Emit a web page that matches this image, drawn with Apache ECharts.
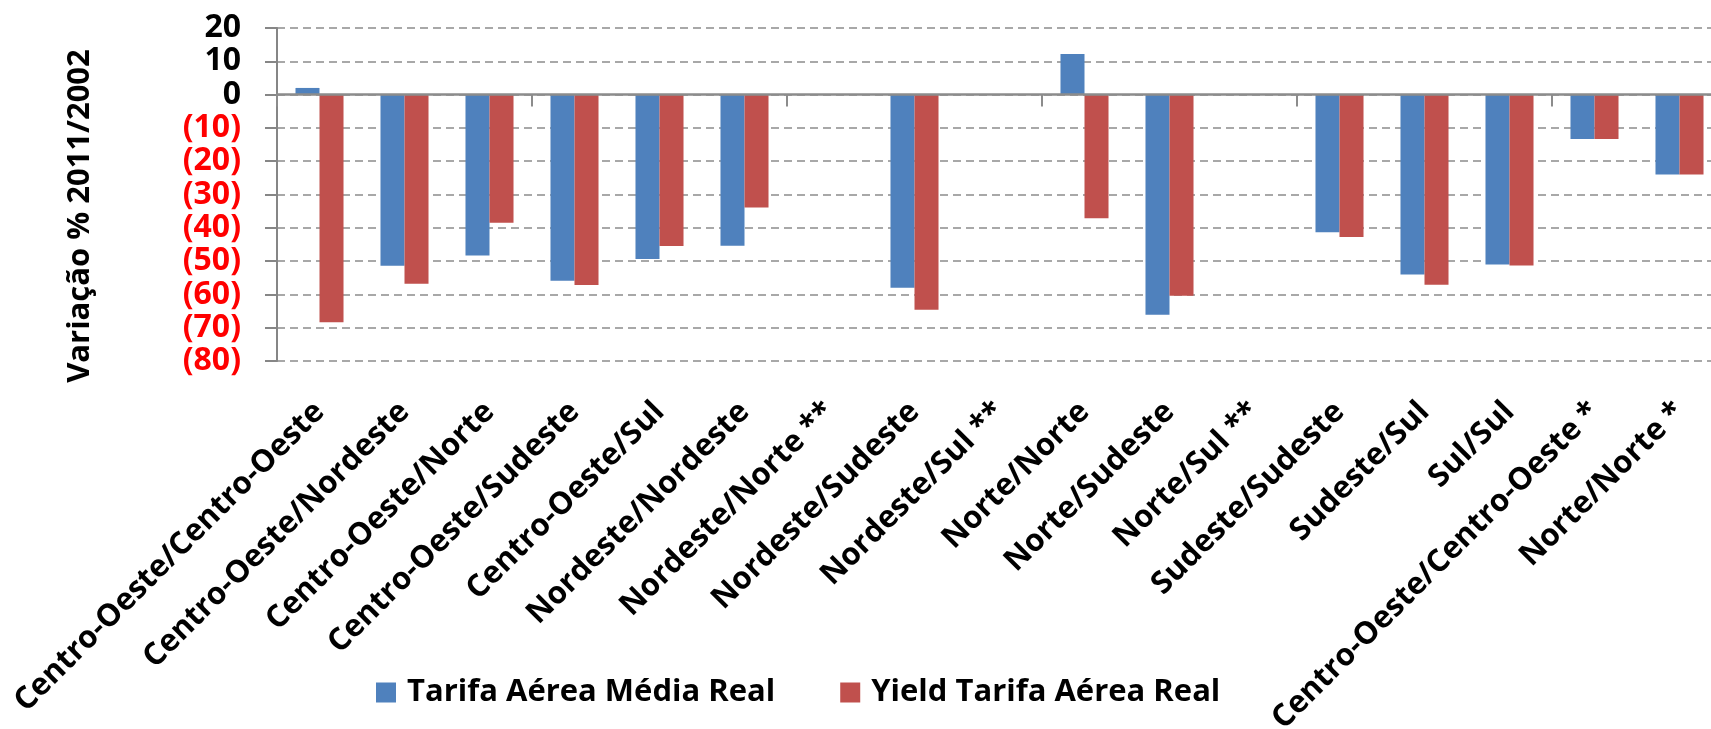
<!DOCTYPE html>
<html>
<head>
<meta charset="utf-8">
<script src="https://cdn.jsdelivr.net/npm/echarts@6/dist/echarts.min.js"></script>
<style>
html,body{margin:0;padding:0;background:#fff;}
#chart{width:1711px;height:729px;}
</style>
</head>
<body>
<div id="chart"></div>
<script>
const categories = [
  'Centro-Oeste/Centro-Oeste', 'Centro-Oeste/Nordeste', 'Centro-Oeste/Norte',
  'Centro-Oeste/Sudeste', 'Centro-Oeste/Sul', 'Nordeste/Nordeste',
  'Nordeste/Norte **', 'Nordeste/Sudeste', 'Nordeste/Sul **', 'Norte/Norte',
  'Norte/Sudeste', 'Norte/Sul **', 'Sudeste/Sudeste', 'Sudeste/Sul',
  'Sul/Sul', 'Centro-Oeste/Centro-Oeste *', 'Norte/Norte *'
];
const tarifaMediaReal = [2.0, -51.4, -48.3, -55.9, -49.4, -45.4, null, -58.0, null, 12.2, -66.1, null, -41.3, -54.0, -51.0, -13.3, -24.0];
const yieldTarifaReal = [-68.4, -56.8, -38.5, -57.2, -45.5, -33.9, null, -64.6, null, -37.1, -60.4, null, -42.8, -57.1, -51.3, -13.3, -24.0];
const seriesNames = ['Tarifa Aérea Média Real', 'Yield Tarifa Aérea Real'];
const yAxisTitle = 'Variação % 2011/2002';
const yMin = -80, yMax = 20, yStep = 10;

const FONT = "'Open Sans', 'Noto Sans', sans-serif";
const chart = echarts.init(document.getElementById('chart'));
chart.setOption({
  animation: false,
  backgroundColor: '#ffffff',
  color: ['#4F81BD', '#C0504D'],
  grid: { left: 277, top: 28, width: 1445, height: 333, containLabel: false, outerBoundsMode: 'none' },
  legend: {
    data: seriesNames,
    left: 371, top: 672,
    icon: 'rect', itemWidth: 20, itemHeight: 20, itemGap: 65,
    textStyle: { fontFamily: FONT, fontWeight: 'bold', fontSize: 31, color: '#000', padding: [0, 0, 0, 6] }
  },
  graphic: [{
    type: 'text', x: 80, y: 216, rotation: Math.PI / 2,
    style: { text: yAxisTitle, fontFamily: FONT, fontWeight: 'bold', fontSize: 31, fill: '#000', align: 'center', verticalAlign: 'middle' }
  }],
  xAxis: [{
    type: 'category', data: categories, position: 'bottom', z: 5,
    axisLine: { show: true, onZero: true, lineStyle: { color: '#8C8C8C', width: 2.5 } },
    axisTick: { show: true, length: 12, lineStyle: { color: '#8C8C8C', width: 2 } },
    axisLabel: { show: false },
    splitLine: { show: false }
  }, {
    type: 'category', data: categories, position: 'bottom',
    axisLine: { show: false, onZero: false },
    axisTick: { show: false },
    axisLabel: { show: true, rotate: 45, interval: 0, margin: 46, fontFamily: FONT, fontWeight: 'bold', fontSize: 31, color: '#000' },
    splitLine: { show: false }
  }],
  yAxis: {
    type: 'value', min: yMin, max: yMax, interval: yStep,
    axisLine: { show: true, lineStyle: { color: '#868686', width: 2 } },
    axisTick: { show: true, length: 12, lineStyle: { color: '#868686', width: 2 } },
    splitLine: { show: true, lineStyle: { color: '#A8A8A8', width: 2, type: [8, 5] } },
    axisLabel: {
      margin: 36,
      formatter: function (v) { return v < 0 ? '{neg|(' + Math.abs(v) + ')}' : '{pos|' + v + '}'; },
      rich: {
        neg: { color: '#FF0000', fontFamily: FONT, fontWeight: 'bold', fontSize: 32 },
        pos: { color: '#000000', fontFamily: FONT, fontWeight: 'bold', fontSize: 32 }
      }
    }
  },
  series: [{
    name: seriesNames[0], type: 'bar', data: tarifaMediaReal, xAxisIndex: 0,
    barGap: '0%', barCategoryGap: '43.5%',
    itemStyle: { color: '#4F81BD' }
  }, {
    name: seriesNames[1], type: 'bar', data: yieldTarifaReal, xAxisIndex: 0,
    barGap: '0%', barCategoryGap: '43.5%',
    itemStyle: { color: '#C0504D' }
  }]
});
</script>
</body>
</html>
